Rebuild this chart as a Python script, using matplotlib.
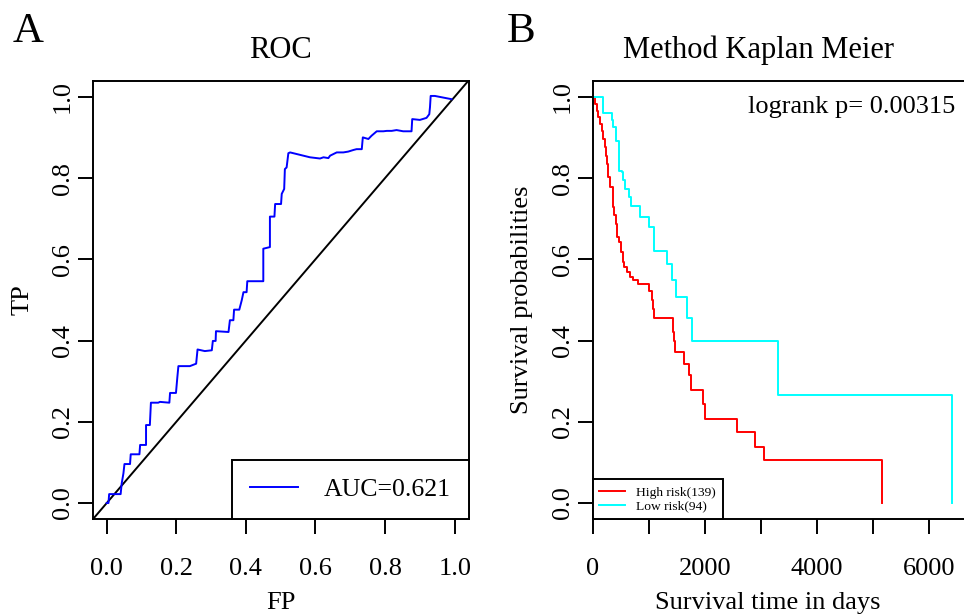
import matplotlib
matplotlib.use('Agg')
import matplotlib.pyplot as plt

plt.rcParams['font.family'] = ['Liberation Serif', 'DejaVu Serif']

# ---------------- data ----------------
roc_fp = [0.000, 0.005, 0.007, 0.040, 0.043, 0.048, 0.051, 0.067, 0.069, 0.094,
          0.096, 0.113, 0.113, 0.124, 0.127, 0.148, 0.153, 0.180, 0.182, 0.199,
          0.203, 0.206, 0.239, 0.257, 0.261, 0.282, 0.302, 0.305, 0.313, 0.314,
          0.350, 0.354, 0.364, 0.366, 0.381, 0.388, 0.393, 0.402, 0.404, 0.450,
          0.450, 0.469, 0.469, 0.482, 0.484, 0.501, 0.503, 0.510, 0.512, 0.517,
          0.522, 0.527, 0.565, 0.584, 0.613, 0.623, 0.637, 0.642, 0.661, 0.680,
          0.694, 0.709, 0.718, 0.733, 0.736, 0.752, 0.761, 0.776, 0.795, 0.805,
          0.819, 0.833, 0.852, 0.876, 0.878, 0.900, 0.919, 0.927, 0.929, 0.931,
          0.943, 0.967, 0.991]
roc_tp = [0.000, 0.000, 0.022, 0.022, 0.048, 0.073, 0.096, 0.096, 0.120, 0.120,
          0.143, 0.143, 0.192, 0.192, 0.247, 0.247, 0.249, 0.247, 0.271, 0.271,
          0.310, 0.337, 0.337, 0.343, 0.378, 0.374, 0.376, 0.399, 0.399, 0.423,
          0.421, 0.450, 0.450, 0.476, 0.476, 0.499, 0.519, 0.519, 0.546, 0.546,
          0.626, 0.630, 0.705, 0.705, 0.736, 0.736, 0.761, 0.773, 0.822, 0.826,
          0.861, 0.863, 0.855, 0.851, 0.848, 0.851, 0.849, 0.855, 0.863, 0.863,
          0.865, 0.869, 0.871, 0.871, 0.900, 0.896, 0.904, 0.915, 0.915, 0.916,
          0.916, 0.918, 0.915, 0.915, 0.945, 0.943, 0.948, 0.957, 0.974, 1.002,
          1.002, 0.998, 0.994]
auc_label = "AUC=0.621"

high_time = [0, 41, 71, 100, 130, 160, 190, 220, 238, 261, 279, 309, 357, 380,
             416, 440, 476, 499, 535, 559, 607, 666, 714, 815, 1011, 1053, 1083,
             1101, 1428, 1452, 1470, 1630, 1726, 1749, 1976, 2005, 2571, 2898,
             3059, 5160]
high_surv = [1.0, 0.982, 0.966, 0.949, 0.933, 0.916, 0.896, 0.876, 0.855, 0.835,
             0.802, 0.777, 0.728, 0.708, 0.687, 0.654, 0.642, 0.618, 0.593, 0.581,
             0.568, 0.556, 0.550, 0.538, 0.523, 0.500, 0.478, 0.456, 0.420, 0.400,
             0.372, 0.342, 0.314, 0.278, 0.245, 0.208, 0.175, 0.138, 0.106, 0.0]
low_time = [0, 178, 339, 368, 416, 476, 517, 535, 577, 654, 678, 845, 1011, 1095,
            1321, 1410, 1487, 1690, 1767, 3315, 6422]
low_surv = [1.0, 0.959, 0.943, 0.925, 0.892, 0.818, 0.814, 0.794, 0.773, 0.753,
            0.730, 0.705, 0.679, 0.620, 0.589, 0.548, 0.507, 0.456, 0.399, 0.265, 0.0]
km_labels = ["High risk(139)", "Low risk(94)"]
logrank_text = "logrank p= 0.00315"

roc_xticks = [0.0, 0.2, 0.4, 0.6, 0.8, 1.0]
roc_yticks = [0.0, 0.2, 0.4, 0.6, 0.8, 1.0]
km_xticks = [0, 1000, 2000, 3000, 4000, 5000, 6000]
km_xticklabels = ["0", "", "2000", "", "4000", "", "6000"]

# ---------------- figure ----------------
W, H = 964, 615
fig = plt.figure(figsize=(W / 100, H / 100), dpi=100)


def box(l, t, r, b):
    return [l / W, 1 - b / H, (r - l) / W, (b - t) / H]


def fx(px):
    return px / W


def fy(py):
    return 1 - py / H


LW = 1.4
TICK_FS = 19


def style(ax):
    for s in ax.spines.values():
        s.set_linewidth(LW)
        s.set_color('black')
    ax.tick_params(axis='both', direction='out', length=10.8, width=LW,
                   labelsize=TICK_FS, top=False, right=False)
    ax.tick_params(axis='x', pad=17)
    ax.tick_params(axis='y', pad=3, labelrotation=90)
    for lab in ax.get_yticklabels():
        lab.set_va('center')


# Panel A: ROC
ax1 = fig.add_axes(box(92.8, 80.5, 468.6, 519.3))
ax1.set_xlim(-0.04, 1.04)
ax1.set_ylim(-0.04, 1.04)
ax1.axline((0, 0), slope=1, color='black', lw=LW)
ax1.plot(roc_fp, roc_tp, color='#0000FF', lw=LW, label=auc_label)
ax1.set_xticks(roc_xticks)
ax1.set_xticklabels([f"{v:.1f}" for v in roc_xticks])
ax1.set_yticks(roc_yticks)
ax1.set_yticklabels([f"{v:.1f}" for v in roc_yticks])
style(ax1)
leg1 = ax1.legend(loc='lower right', borderaxespad=0, fontsize=18.5,
                  handlelength=1.88, handletextpad=1.0, borderpad=0.7,
                  fancybox=False, framealpha=1, edgecolor='black')
leg1.get_frame().set_linewidth(LW)

# Panel B: Kaplan Meier
ax2 = fig.add_axes(box(592.7, 80.5, 967.9, 519.3))
ax2.set_xlim(0, 6700)
ax2.set_ylim(-0.04, 1.04)
ax2.step(high_time, high_surv, where='post', color='#FF0000', lw=LW, label=km_labels[0])
ax2.step(low_time, low_surv, where='post', color='#00FFFF', lw=LW, label=km_labels[1])
ax2.set_xticks(km_xticks)
ax2.set_xticklabels(km_xticklabels)
ax2.set_yticks(roc_yticks)
ax2.set_yticklabels([f"{v:.1f}" for v in roc_yticks])
style(ax2)
leg2 = ax2.legend(loc='lower left', borderaxespad=0, fontsize=9.7,
                  handlelength=1.9, handletextpad=0.84, borderpad=0.5,
                  labelspacing=0.12, fancybox=False, framealpha=1,
                  edgecolor='black')
leg2.get_frame().set_linewidth(LW)

# texts
fig.text(fx(955.7), fy(113), logrank_text, ha='right', va='baseline', fontsize=19)
fig.text(fx(280.7), fy(58.3), "ROC", ha='center', va='baseline', fontsize=22)
fig.text(fx(758.8), fy(58.3), "Method Kaplan Meier", ha='center', va='baseline', fontsize=22)
fig.text(fx(12.4), fy(42), "A", ha='left', va='baseline', fontsize=31)
fig.text(fx(506.7), fy(42), "B", ha='left', va='baseline', fontsize=31)
fig.text(fx(280.7), fy(609.4), "FP", ha='center', va='baseline', fontsize=19)
fig.text(fx(768), fy(609.4), "Survival time in days", ha='center', va='baseline', fontsize=19)
fig.text(fx(22.3), fy(300), "TP", ha='center', va='center', rotation=90, fontsize=19)
fig.text(fx(522), fy(300), "Survival probabilities", ha='center', va='center',
         rotation=90, fontsize=19)

fig.savefig('out.png', dpi=100)
